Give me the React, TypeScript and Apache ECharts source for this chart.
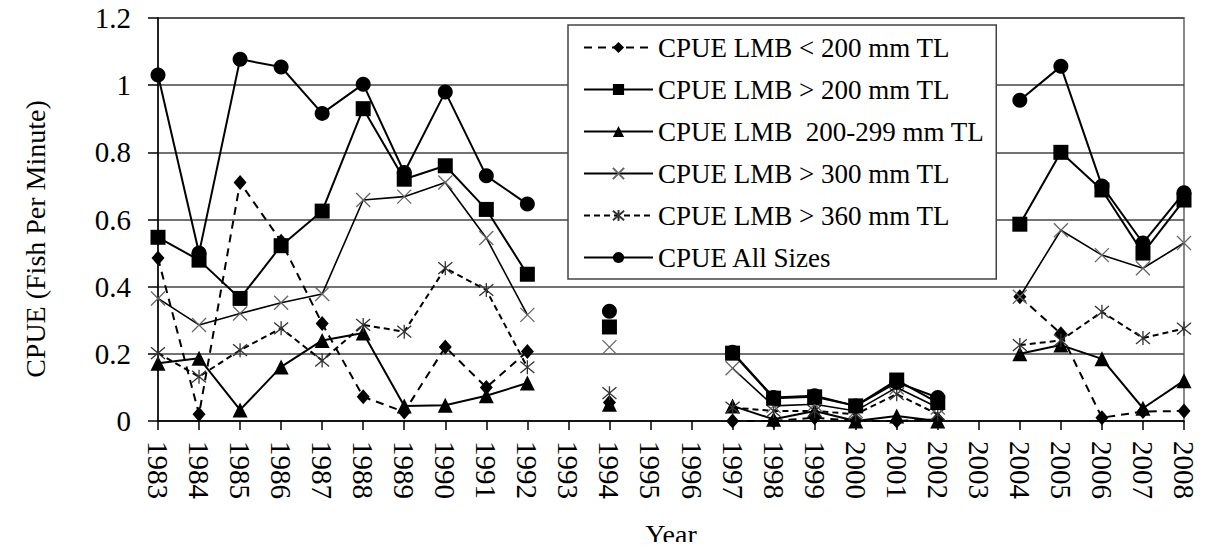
import React, { useEffect, useRef } from "react";
import * as echarts from "echarts";

const years = ["1983","1984","1985","1986","1987","1988","1989","1990","1991","1992","1993","1994","1995","1996","1997","1998","1999","2000","2001","2002","2003","2004","2005","2006","2007","2008"];

const lt200 = [0.485,0.02,0.71,0.535,0.29,0.072,0.027,0.22,0.10,0.207,null,0.055,null,null,0.0,0.0,0.01,0.0,0.0,0.005,null,0.37,0.26,0.01,0.028,0.03];
const gt200 = [0.547,0.479,0.365,0.522,0.625,0.93,0.72,0.76,0.63,0.437,null,0.28,null,null,0.202,0.068,0.072,0.045,0.122,0.055,null,0.586,0.80,0.688,0.50,0.658];
const r200to299 = [0.172,0.187,0.033,0.161,0.24,0.262,0.045,0.047,0.075,0.113,null,0.05,null,null,0.045,0.005,0.03,0.0,0.015,0.0,null,0.2,0.226,0.185,0.038,0.12];
const gt300 = [0.365,0.286,0.32,0.352,0.378,0.658,0.668,0.71,0.545,0.316,null,0.22,null,null,0.157,0.045,0.05,0.03,0.10,0.04,null,0.37,0.568,0.494,0.455,0.53];
const gt360 = [0.202,0.132,0.211,0.276,0.18,0.286,0.266,0.455,0.39,0.16,null,0.083,null,null,0.04,0.03,0.03,0.02,0.08,0.02,null,0.226,0.24,0.325,0.247,0.275];
const allSizes = [1.03,0.50,1.077,1.054,0.916,1.003,0.74,0.98,0.73,0.646,null,0.327,null,null,0.205,0.07,0.075,0.045,0.115,0.07,null,0.955,1.056,0.70,0.53,0.68];

const seriesNames = [
  "CPUE LMB < 200 mm TL",
  "CPUE LMB > 200 mm TL",
  "CPUE LMB  200-299 mm TL",
  "CPUE LMB > 300 mm TL",
  "CPUE LMB > 360 mm TL",
  "CPUE All Sizes",
];

const FONT = "Liberation Serif";
const X_PATH = "path://M0,0L10,10M10,0L0,10";
const AST_PATH = "path://M0,0L10,10M10,0L0,10M5,-1L5,11";

export default function App() {
  const ref = useRef<HTMLDivElement>(null);
  useEffect(() => {
    if (!ref.current) return;
    const chart = echarts.init(ref.current, undefined, { renderer: "svg" });
    const black = "#000";
    const base = {
      type: "line" as const,
      connectNulls: false,
      showAllSymbol: true,
      animation: false,
    };
    chart.setOption({
      animation: false,
      textStyle: { fontFamily: FONT, color: black },
      grid: {
        left: 158,
        right: 26,
        top: 18,
        bottom: 129,
        containLabel: false,
        outerBoundsMode: "none",
        show: true,
        borderColor: "#888",
        borderWidth: 2,
        backgroundColor: "transparent",
      },
      legend: {
        orient: "vertical",
        left: 568,
        top: 25,
        width: 394,
        padding: [9, 12, 8, 15],
        backgroundColor: "#fff",
        borderColor: "#444",
        borderWidth: 1.5,
        itemWidth: 69,
        itemHeight: 14,
        itemGap: 15,
        textStyle: { fontFamily: FONT, fontSize: 27, color: black, lineHeight: 26 },
        data: seriesNames,
      },
      xAxis: {
        type: "category",
        data: years,
        boundaryGap: false,
        name: "Year",
        nameLocation: "middle",
        nameGap: 99,
        nameTextStyle: { fontFamily: FONT, fontSize: 28, color: black },
        axisLine: { lineStyle: { color: black, width: 1.5 } },
        axisTick: { show: true, length: 9, lineStyle: { color: black, width: 1.5 }, interval: 0 },
        axisLabel: { interval: 0, rotate: -90, margin: 20, fontFamily: FONT, fontSize: 29, color: black },
        splitLine: { show: false },
      },
      yAxis: {
        type: "value",
        min: 0,
        max: 1.2,
        interval: 0.2,
        axisLine: { show: true, lineStyle: { color: black, width: 1.5 } },
        axisTick: { show: true, length: 10, lineStyle: { color: black, width: 1.5 } },
        axisLabel: { margin: 27, fontFamily: FONT, fontSize: 29, color: black },
        splitLine: { show: true, lineStyle: { color: "#444", width: 1.5 } },
      },
      graphic: [
        {
          type: "text",
          x: 35,
          y: 239,
          rotation: Math.PI / 2,
          style: {
            text: "CPUE (Fish Per Minute)",
            fontFamily: FONT,
            fontSize: 28,
            fill: black,
            textAlign: "center",
            textVerticalAlign: "middle",
          },
        },
      ],
      series: [
        {
          ...base,
          name: seriesNames[0],
          data: lt200,
          symbol: "diamond",
          symbolSize: [13, 15],
          lineStyle: { color: black, width: 2, type: [8, 6] },
          itemStyle: { color: black },
          z: 2,
        },
        {
          ...base,
          name: seriesNames[1],
          data: gt200,
          symbol: "rect",
          symbolSize: 15,
          lineStyle: { color: black, width: 2, type: "solid" },
          itemStyle: { color: black },
          z: 6,
        },
        {
          ...base,
          name: seriesNames[2],
          data: r200to299,
          symbol: "triangle",
          symbolSize: 15,
          lineStyle: { color: black, width: 2, type: "solid" },
          itemStyle: { color: black },
          z: 3,
        },
        {
          ...base,
          name: seriesNames[3],
          data: gt300,
          symbol: X_PATH,
          symbolSize: 14,
          lineStyle: { color: black, width: 1.6, type: "solid" },
          itemStyle: { color: "#666", borderColor: "#666", borderWidth: 1.3 },
          z: 4,
        },
        {
          ...base,
          name: seriesNames[4],
          data: gt360,
          symbol: AST_PATH,
          symbolSize: 14,
          lineStyle: { color: black, width: 2, type: [6, 4] },
          itemStyle: { color: "#333", borderColor: "#333", borderWidth: 1.3 },
          z: 3,
        },
        {
          ...base,
          name: seriesNames[5],
          data: allSizes,
          symbol: "circle",
          symbolSize: 15,
          lineStyle: { color: black, width: 2, type: "solid" },
          itemStyle: { color: black },
          z: 5,
        },
      ],
    });
    return () => chart.dispose();
  }, []);
  return <div ref={ref} style={{ width: 1210, height: 550, margin: -8 }} />;
}
